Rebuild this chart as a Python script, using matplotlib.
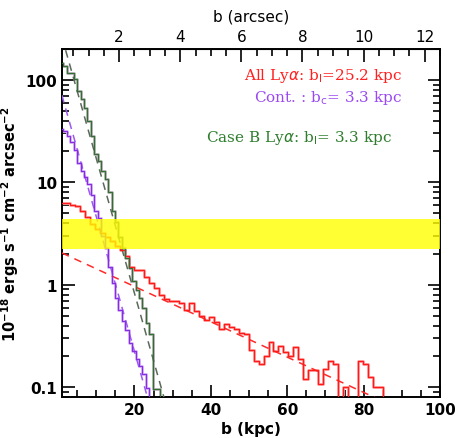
import numpy as np
import matplotlib
matplotlib.use("Agg")
import matplotlib.pyplot as plt
from matplotlib.ticker import FixedLocator, MultipleLocator, LogLocator, NullFormatter, FuncFormatter

# ---------------- data ----------------
kpc_per_arcsec = 8.0

# All Lya profile (red), bins 1.3 kpc wide starting at b=0.5
red_bin_start = 0.5
red_bin_width = 1.3
red_vals = [6.3, 6.3, 6.0, 5.9, 5.3, 4.6, 3.9, 3.5, 3.2, 2.9, 2.7, 2.4, 2.2, 1.9,
            1.5, 1.4, 1.38, 1.2, 1.05, 0.93, 0.8, 0.72, 0.69, 0.69, 0.66, 0.57,
            0.67, 0.55, 0.5, 0.45, 0.49, 0.43, 0.37, 0.41, 0.39, 0.37, 0.34, 0.33,
            0.23, 0.18, 0.17, 0.2, 0.275, 0.225, 0.255, 0.22, 0.2, 0.245, 0.19,
            0.12, 0.147, 0.147, 0.107, 0.15, 0.18, 0.167, 0.06, 0.1, 0.06, 0.06,
            0.18, 0.17, 0.125, 0.1, 0.1, 0.03]

# Case B Lya (green/gray) and continuum (purple), bins 0.9 kpc from b=0.5
narrow_bin_start = 0.5
narrow_bin_width = 0.9
green_vals = [147, 136, 117, 117, 101, 78, 65, 53, 40, 28.5, 19, 16.3, 13, 10.9,
              8.05, 5.3, 4.1, 2.95, 2.3, 1.83, 1.46, 1.1, 0.89, 0.75, 0.59, 0.42,
              0.33, 0.096, 0.096, 0.03]
purple_vals = [33, 32, 28.5, 24.6, 20.5, 15.3, 13, 11.3, 9.7, 7.5, 5.3, 4.5, 3.0,
               2.27, 1.5, 1.04, 0.75, 0.57, 0.44, 0.365, 0.27, 0.225, 0.187, 0.16,
               0.134, 0.099, 0.03]

# exponential fits: amplitude, scale length (kpc), range of b drawn
red_fit = (2.13, 25.2, 1.0, 86.0)
green_fit = (355.0, 3.3, 1.0, 30.0)
purple_fit = (96.0, 3.3, 1.0, 26.0)

band_lo, band_hi = 2.22, 4.4

xlim = (1.0, 100.0)
ylim = (0.08, 200.0)

# ---------------- plot ----------------
fig = plt.figure(figsize=(4.55, 4.39), dpi=100)
ax = fig.add_axes([0.136, 0.093, 0.831, 0.793])

def step_xy(start, width, vals):
    edges = start + width * np.arange(len(vals) + 1)
    x = np.repeat(edges, 2)[1:-1]
    y = np.repeat(np.asarray(vals, float), 2)
    return x, y

# fits
for (A, s, b0, b1), col in [(red_fit, "#ff2a2a"), (green_fit, "#5a6a5a"),
                            (purple_fit, "#9a5af0")]:
    bb = np.linspace(b0, b1, 300)
    ax.plot(bb, A * np.exp(-bb / s), ls=(0, (5, 4)), color=col, lw=1.1, zorder=3)

# histograms
xr, yr = step_xy(red_bin_start, red_bin_width, red_vals)
ax.plot(xr, yr, color="#ffa0a0", lw=2.0, zorder=2)
ax.plot(xr, yr, color="#ff1a1a", lw=0.9, zorder=4)

xg, yg = step_xy(narrow_bin_start, narrow_bin_width, green_vals)
ax.plot(xg, yg, color="#9a9a9a", lw=1.8, zorder=2)
ax.plot(xg, yg, color="#2e6e2e", lw=0.7, zorder=4)

xp, yp = step_xy(narrow_bin_start, narrow_bin_width, purple_vals)
ax.plot(xp, yp, color="#d0b0f5", lw=2.0, zorder=2)
ax.plot(xp, yp, color="#8a2be2", lw=0.8, zorder=4)

# yellow band on top, slightly transparent
ax.axhspan(band_lo, band_hi, color="#ffff00", alpha=0.8, lw=0, zorder=5)

ax.set_xscale("linear")
ax.set_yscale("log")
ax.set_xlim(*xlim)
ax.set_ylim(*ylim)

# ticks
ax.xaxis.set_major_locator(FixedLocator([20, 40, 60, 80, 100]))
ax.xaxis.set_minor_locator(MultipleLocator(5))
ax.yaxis.set_major_locator(FixedLocator([0.1, 1, 10, 100]))
ax.yaxis.set_minor_locator(LogLocator(base=10, subs=np.arange(2, 10)))
ax.yaxis.set_minor_formatter(NullFormatter())
ax.yaxis.set_major_formatter(FuncFormatter(lambda v, p: {0.1: "0.1", 1: "1", 10: "10", 100: "100"}.get(round(v, 3), "")))
ax.tick_params(which="both", direction="in", top=False, right=True, width=1.2)
ax.tick_params(which="major", length=9, labelsize=11)
ax.tick_params(which="minor", length=5)
for lab in ax.get_xticklabels() + ax.get_yticklabels():
    lab.set_fontweight("bold")
for sp in ax.spines.values():
    sp.set_linewidth(1.4)

sec = ax.secondary_xaxis("top", functions=(lambda b: b / kpc_per_arcsec,
                                           lambda a: a * kpc_per_arcsec))
sec.xaxis.set_major_locator(FixedLocator([2, 4, 6, 8, 10, 12]))
sec.xaxis.set_minor_locator(MultipleLocator(0.5))
sec.tick_params(which="both", direction="in", width=1.2, labelsize=11)
sec.tick_params(which="major", length=9)
sec.tick_params(which="minor", length=5)
sec.set_xlabel("b (arcsec)", fontsize=11, labelpad=6)

ax.set_xlabel("b (kpc)", fontsize=11, fontweight="bold", labelpad=3)
ax.set_ylabel(r"10$^{\mathbf{-18}}$ ergs s$^{\mathbf{-1}}$ cm$^{\mathbf{-2}}$ arcsec$^{\mathbf{-2}}$",
              fontsize=10.5, fontweight="bold", labelpad=3)

serif = "DejaVu Serif"
ax.text(0.899, 0.914, r"All Ly$\alpha$: b$_{\rm l}$=25.2 kpc", transform=ax.transAxes,
        ha="right", va="baseline", color="#ff2020", fontsize=11, family=serif)
ax.text(0.899, 0.852, r"Cont. : b$_{\rm c}$= 3.3 kpc", transform=ax.transAxes,
        ha="right", va="baseline", color="#9a4af0", fontsize=11, family=serif)
ax.text(0.873, 0.736, r"Case B Ly$\alpha$: b$_{\rm l}$= 3.3 kpc", transform=ax.transAxes,
        ha="right", va="baseline", color="#2e7d2e", fontsize=11, family=serif)

fig.savefig("out.png", dpi=100)
